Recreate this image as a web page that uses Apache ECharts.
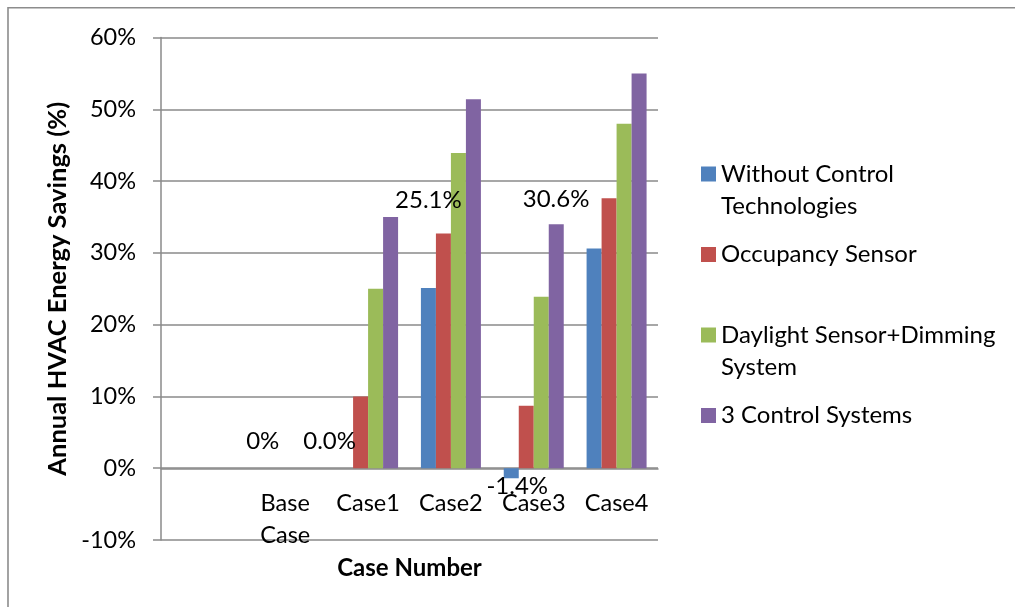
<!DOCTYPE html>
<html>
<head>
<meta charset="utf-8">
<script src="https://cdn.jsdelivr.net/npm/echarts@6/dist/echarts.min.js"></script>
<style>html,body{margin:0;padding:0;background:#fff;}#c{width:1015px;height:607px;}</style>
</head>
<body>
<div id="c"></div>
<script>
// ---- data ----
const categories = ['', 'Base\nCase', 'Case1', 'Case2', 'Case3', 'Case4'];
const seriesNames = ['Without Control Technologies', 'Occupancy Sensor', 'Daylight Sensor+Dimming System', '3 Control Systems'];
const withoutControl = [null, 0, 0, 25.1, -1.4, 30.6];
const occupancySensor = [null, 0, 10.0, 32.7, 8.7, 37.6];
const daylightDimming = [null, 0, 25.0, 43.9, 23.9, 48.0];
const threeControl = [null, 0, 35.0, 51.4, 34.0, 55.0];
const labelDecimals = [0, 0, 1, 1, 1, 1];
const yMin = -10, yMax = 60, yStep = 10;
const legendLabels = ['Without Control\nTechnologies', 'Occupancy Sensor', 'Daylight Sensor+Dimming\nSystem', '3 Control Systems'];

// ---- styling / layout ----
const FONT = 'Lato';
const colors = ['#4F81BD', '#C0504D', '#9BBB59', '#8064A2'];
const gridColor = '#8a8a8a';
// manual label placement (as in the original chart)
const labelPlacement = [
  null,
  {position: 'top', offset: [0, -14]},
  {position: 'top', offset: [-16, -14]},
  {position: 'top', offset: [0, -75]},
  {position: 'bottom', offset: [6, -5]},
  {position: 'top', offset: [-38, -36]}
];

const blueData = withoutControl.map((v, i) => {
  if (v === null) return null;
  const p = labelPlacement[i];
  return {
    value: v,
    label: {show: true, position: p.position, offset: p.offset, distance: 0,
      formatter: v.toFixed(labelDecimals[i]) + '%'}
  };
});

const allSeries = [withoutControl, occupancySensor, daylightDimming, threeControl];
const series = allSeries.map((arr, k) => ({
  name: seriesNames[k],
  type: 'bar',
  data: k === 0 ? blueData : arr,
  barWidth: 15,
  barGap: '0%',
  itemStyle: {color: colors[k]},
  label: {show: false, color: '#000', fontFamily: FONT, fontSize: 24, lineHeight: 26},
  emphasis: {disabled: true}
}));

const legendTops = [126, 238.5, 287, 399.5];
const legends = seriesNames.map((n, k) => ({
  data: [n],
  left: 701,
  top: legendTops[k],
  padding: 0,
  icon: 'rect',
  itemWidth: 15,
  itemHeight: 15,
  selectedMode: false,
  // two-line entries: an empty leading line keeps the first text line level with the swatch
  formatter: () => (legendLabels[k].indexOf('\n') >= 0 ? '\n' : '') + legendLabels[k],
  textStyle: {fontFamily: FONT, fontSize: 24, color: '#000', lineHeight: 32}
}));

const chart = echarts.init(document.getElementById('c'), null, {renderer: 'canvas'});
chart.setOption({
  animation: false,
  backgroundColor: '#fff',
  color: colors,
  textStyle: {fontFamily: FONT},
  grid: {left: 161, right: 357, top: 37.5, bottom: 67, containLabel: false, outerBoundsMode: 'none'},
  legend: legends,
  graphic: [{
    type: 'rect', silent: true,
    shape: {x: 8, y: 7.7, width: 3000, height: 3000},
    style: {fill: 'none', stroke: '#8c8c8c', lineWidth: 1.6}
  }],
  xAxis: {
    type: 'category',
    data: categories,
    offset: -71.7,   // category axis sits on the 0% line
    axisLine: {show: true, onZero: false, lineStyle: {color: gridColor, width: 1.5}},
    axisTick: {show: false},
    axisLabel: {color: '#000', fontFamily: FONT, fontSize: 23.5, lineHeight: 32, margin: 19, interval: 0},
    name: 'Case Number',
    nameLocation: 'middle',
    nameGap: 84,
    nameTextStyle: {color: '#000', fontFamily: FONT, fontSize: 24, fontWeight: 'bold'}
  },
  yAxis: {
    type: 'value',
    min: yMin, max: yMax, interval: yStep,
    axisLine: {show: true, lineStyle: {color: gridColor, width: 1.5}},
    axisTick: {show: true, length: 8, lineStyle: {color: gridColor, width: 1.5}},
    splitLine: {show: true, lineStyle: {color: gridColor, width: 1.5}},
    axisLabel: {color: '#000', fontFamily: FONT, fontSize: 23.5, margin: 25,
      formatter: v => v + '%'},
    name: 'Annual HVAC Energy Savings (%)',
    nameLocation: 'middle',
    nameGap: 90,
    nameTextStyle: {color: '#000', fontFamily: FONT, fontSize: 25.5, fontWeight: 'bold'}
  },
  series: series
});
</script>
</body>
</html>
